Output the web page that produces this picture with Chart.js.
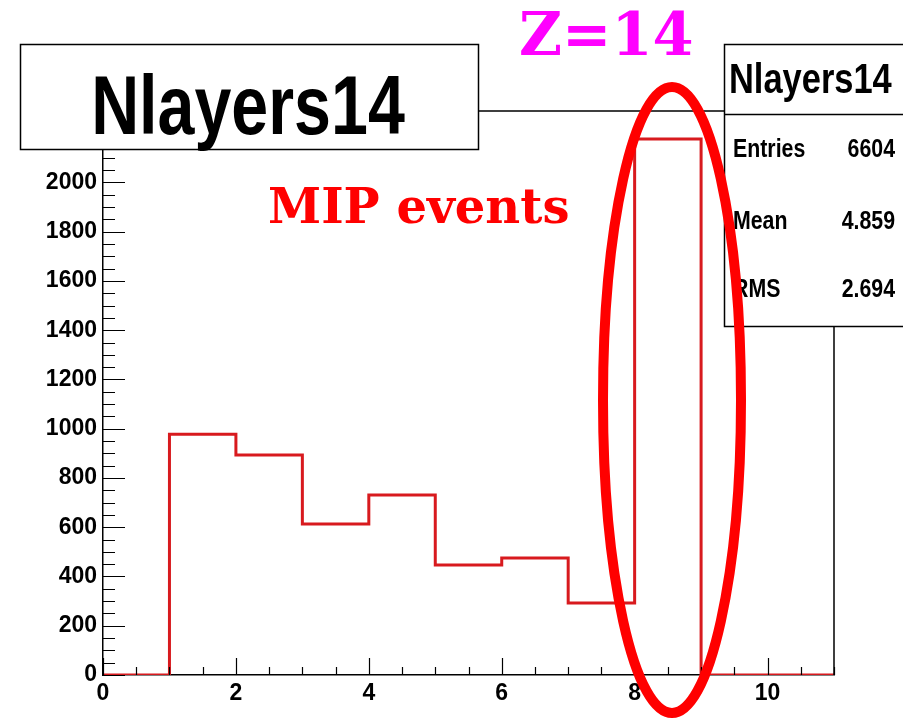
<!DOCTYPE html>
<html>
<head>
<meta charset="utf-8">
<script src="https://cdn.jsdelivr.net/npm/chart.js@4.4.1/dist/chart.umd.min.js"></script>
<style>
  html, body { margin: 0; padding: 0; background: #fff; }
  #wrap { width: 903px; height: 720px; }
</style>
</head>
<body>
<div id="wrap"><canvas id="histChart" width="903" height="720"></canvas></div>
<script>
// histogram Nlayers14: bin edges and counts per bin
const binEdges = [0, 1, 2, 3, 4, 5, 6, 7, 8, 9, 10, 11];
const binCounts = [0, 978, 893, 613, 731, 447, 475, 292, 2176, 0, 0];
const xTickLabels = [0, 2, 4, 6, 8, 10];
const yTickLabels = [0, 200, 400, 600, 800, 1000, 1200, 1400, 1600, 1800, 2000];
const statsNames = ['Entries', 'Mean', 'RMS'];
const statsValues = ['6604', '4.859', '2.694'];

const SANS = '"Liberation Sans", Arial, sans-serif';
const SERIF = '"DejaVu Serif", serif';

// points at bin edges, drawn as steps
const stepPoints = binEdges.map((e, i) => ({
    x: e,
    y: i < binCounts.length ? binCounts[i] : binCounts[binCounts.length - 1]
}));

// narrow bold text like ROOT's helvetica: squeeze horizontally
function narrowText(ctx, txt, x, y, size, align, squeeze) {
    ctx.save();
    ctx.font = 'bold ' + size + 'px ' + SANS;
    ctx.textAlign = align;
    ctx.translate(x, y);
    ctx.scale(squeeze, 1);
    ctx.fillText(txt, 0, 0);
    ctx.restore();
}

// ROOT-like inward ticks + frame
const frameTicks = {
    id: 'frameTicks',
    afterDatasetsDraw(chart) {
        const { ctx, chartArea: a, scales: { x, y } } = chart;
        ctx.save();
        ctx.strokeStyle = '#000';
        ctx.lineWidth = 1.5;
        ctx.beginPath();
        ctx.moveTo(a.left, a.top); ctx.lineTo(a.right, a.top); ctx.lineTo(a.right, a.bottom);
        ctx.stroke();
        ctx.lineWidth = 1.2;
        ctx.beginPath();
        for (let v = 0; v <= y.max; v += 50) {
            const py = Math.round(y.getPixelForValue(v)) + 0.5;
            const len = v % 200 === 0 ? 22 : 12;
            ctx.moveTo(a.left, py); ctx.lineTo(a.left + len, py);
        }
        for (let v = 0; v <= x.max; v += 0.5) {
            const px = Math.round(x.getPixelForValue(v)) + 0.5;
            const len = v % 2 === 0 ? 17 : 8;
            ctx.moveTo(px, a.bottom); ctx.lineTo(px, a.bottom - len);
        }
        ctx.stroke();
        ctx.restore();
    }
};

// title box, stats box and the hand-made annotations
const overlays = {
    id: 'overlays',
    afterDraw(chart) {
        const ctx = chart.ctx;
        ctx.save();
        ctx.lineWidth = 1.5;
        ctx.strokeStyle = '#000';
        ctx.textBaseline = 'alphabetic';

        // title
        ctx.fillStyle = '#fff';
        ctx.fillRect(20, 44, 458, 105);
        ctx.strokeRect(20.5, 44.5, 458, 105);
        ctx.fillStyle = '#000';
        narrowText(ctx, 'Nlayers14', 248, 134, 84, 'center', 0.79);

        // stats box
        ctx.fillStyle = '#fff';
        ctx.fillRect(724, 44, 200, 282);
        ctx.strokeRect(724.5, 44.5, 200, 282);
        ctx.beginPath();
        ctx.moveTo(724, 114.5); ctx.lineTo(903, 114.5);
        ctx.stroke();
        ctx.fillStyle = '#000';
        narrowText(ctx, 'Nlayers14', 729, 93, 42, 'left', 0.82);
        const rowBase = [157, 229, 297];
        statsNames.forEach((n, i) => {
            narrowText(ctx, n, 733, rowBase[i], 26, 'left', 0.82);
            narrowText(ctx, statsValues[i], 895, rowBase[i], 26, 'right', 0.82);
        });

        // red ellipse around the MIP peak
        ctx.strokeStyle = '#ff0000';
        ctx.lineWidth = 10;
        ctx.beginPath();
        ctx.ellipse(672, 400, 69, 313, 0, 0, Math.PI * 2);
        ctx.stroke();

        ctx.textAlign = 'left';
        ctx.fillStyle = '#ff00ff';
        ctx.font = 'bold 59px ' + SERIF;
        ctx.fillText('Z=14', 519, 55);
        ctx.fillStyle = '#ff0000';
        ctx.font = 'bold 48px ' + SERIF;
        ctx.fillText('MIP events', 268, 223);
        ctx.restore();
    }
};

new Chart(document.getElementById('histChart'), {
    type: 'line',
    data: {
        datasets: [{
            label: 'Nlayers14',
            data: stepPoints,
            stepped: 'before',
            borderColor: '#d81a1e',
            borderWidth: 3,
            pointRadius: 0,
            fill: false
        }]
    },
    options: {
        responsive: false,
        animation: false,
        devicePixelRatio: 1,
        layout: { padding: { top: 111, right: 69, bottom: 0, left: 0 } },
        plugins: { legend: { display: false }, tooltip: { enabled: false } },
        scales: {
            x: {
                type: 'linear',
                min: 0, max: 11,
                grid: { display: false, drawTicks: false },
                border: { display: true, color: '#000', width: 1.5 },
                afterBuildTicks: s => { s.ticks = xTickLabels.map(v => ({ value: v })); },
                afterFit: s => { s.height = 45; },
                ticks: {
                    color: '#000', padding: 5, maxRotation: 0, autoSkip: false,
                    callback: v => String(v),
                    font: { family: SANS, weight: 'bold', size: 23 }
                }
            },
            y: {
                min: 0, max: 2290,
                grid: { display: false, drawTicks: false },
                border: { display: true, color: '#000', width: 1.5 },
                afterBuildTicks: s => { s.ticks = yTickLabels.map(v => ({ value: v })); },
                afterFit: s => { s.width = 103; },
                ticks: {
                    color: '#000', padding: 6, autoSkip: false,
                    callback: v => String(v),
                    font: { family: SANS, weight: 'bold', size: 23 }
                }
            }
        }
    },
    plugins: [frameTicks, overlays]
});
</script>
</body>
</html>
